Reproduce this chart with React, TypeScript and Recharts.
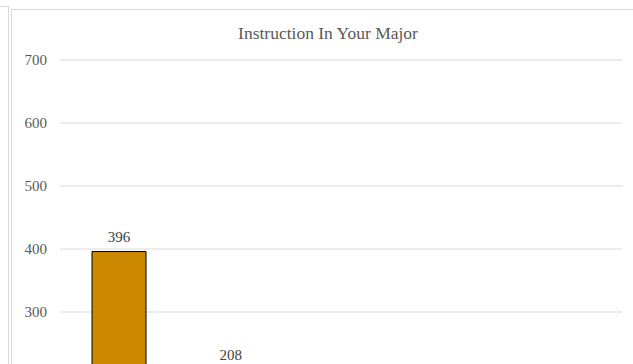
import { BarChart, Bar, XAxis, YAxis, CartesianGrid, LabelList } from 'recharts';

const categories = ['Very Satisfied', 'Satisfied', 'Neutral', 'Dissatisfied', 'Very Dissatisfied'];
const responses = [396, 208, 118, 42, 17];
const yTicks = [0, 100, 200, 300, 400, 500, 600, 700];

const data = categories.map((name, i) => ({ name, value: responses[i] }));

const font = '"Liberation Serif", "Times New Roman", serif';

const App = () => {
  return (
    <div
      style={{
        position: 'fixed',
        left: 0,
        top: 0,
        width: 633,
        height: 364,
        overflow: 'hidden',
        background: '#fff',
        fontFamily: font,
      }}
    >
      {/* edge of the neighbouring sheet object */}
      <div
        style={{
          position: 'absolute',
          left: -2,
          top: 6,
          width: 10,
          height: 400,
          borderTop: '1px solid #d9d9d9',
          borderRight: '1px solid #d9d9d9',
        }}
      />
      {/* chart frame */}
      <div
        style={{
          position: 'absolute',
          left: 11,
          top: 9,
          width: 700,
          height: 600,
          border: '1px solid #d9d9d9',
        }}
      />
      <div
        style={{
          position: 'absolute',
          left: 0,
          width: 656,
          top: 23,
          textAlign: 'center',
          fontSize: 17.5,
          color: '#595959',
        }}
      >
        Instruction In Your Major
      </div>
      <div style={{ position: 'absolute', left: 0, top: 0 }}>
        <BarChart
          width={633}
          height={560}
          data={data}
          margin={{ top: 60, right: 11, left: 0, bottom: 0 }}
          barSize={54}
        >
          <CartesianGrid vertical={false} stroke="#d9d9d9" />
          {/* category names sit below the visible crop */}
          <XAxis
            dataKey="name"
            height={59}
            padding={{ left: 3, right: 0 }}
            tickLine={false}
            tick={false}
            axisLine={{ stroke: '#d9d9d9' }}
          />
          <YAxis
            width={60}
            domain={[0, 700]}
            ticks={yTicks}
            axisLine={false}
            tickLine={false}
            tickSize={0}
            tickMargin={13}
            tick={{ fill: '#595959', fontSize: 15, fontFamily: font }}
          />
          <Bar dataKey="value" fill="#cc8800" stroke="#000" strokeWidth={1} isAnimationActive={false}>
            <LabelList
              dataKey="value"
              position="top"
              offset={10}
              fill="#404040"
              fontSize={15}
              fontFamily={font}
            />
          </Bar>
        </BarChart>
      </div>
    </div>
  );
};

export default App;
